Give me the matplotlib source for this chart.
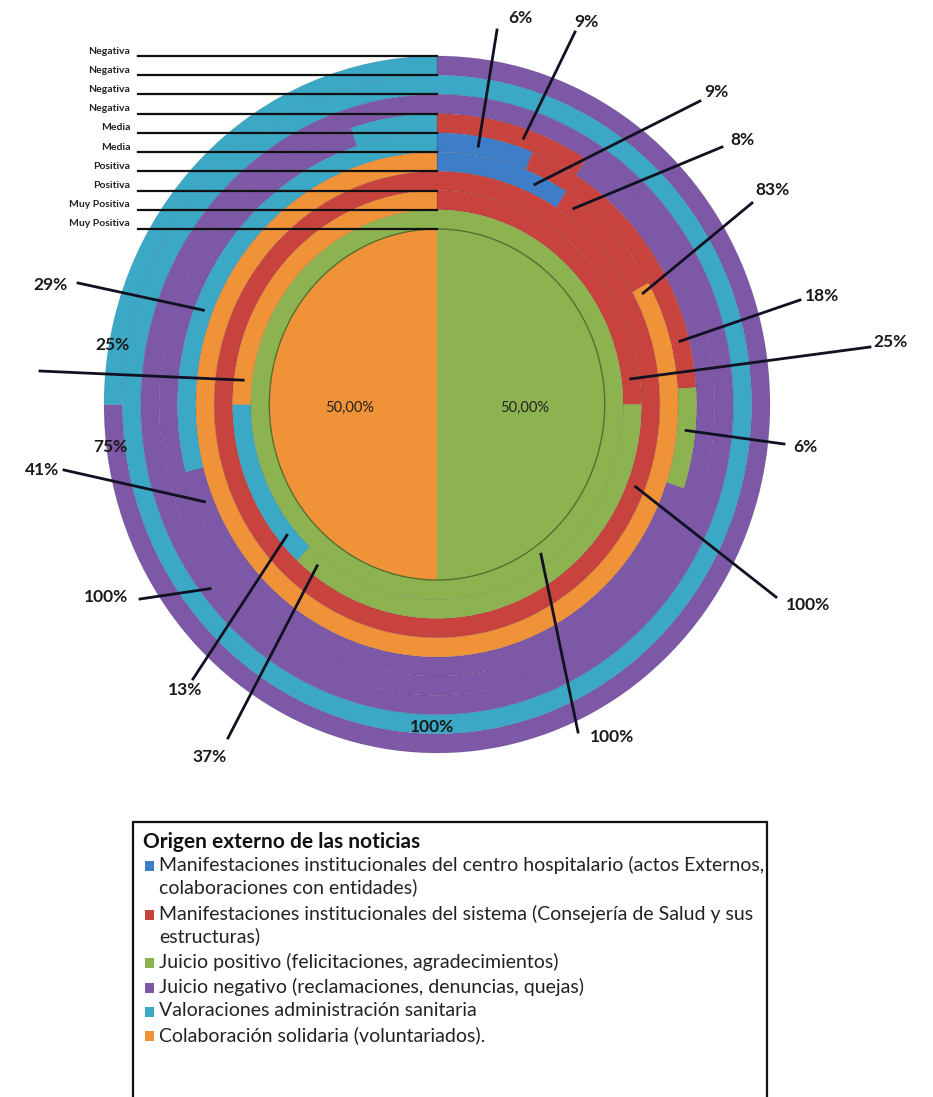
import numpy as np
import matplotlib.pyplot as plt
from matplotlib.patches import Circle, Rectangle

plt.rcParams['font.family'] = ['Lato', 'DejaVu Sans']

# categorias, en el orden de las porciones (sentido horario desde las 12)
categorias = [
    'Manifestaciones institucionales del centro hospitalario (actos Externos,\ncolaboraciones con entidades)',
    'Manifestaciones institucionales del sistema (Consejería de Salud y sus\nestructuras)',
    'Juicio positivo (felicitaciones, agradecimientos)',
    'Juicio negativo (reclamaciones, denuncias, quejas)',
    'Valoraciones administración sanitaria',
    'Colaboración solidaria (voluntariados).',
]
colores = ['#3E7DC8', '#C9433E', '#8DB351', '#7D58A6', '#3BA8C5', '#F09238']

valoracion = ['Negativa', 'Negativa', 'Negativa', 'Negativa', 'Media', 'Media',
              'Positiva', 'Positiva', 'Muy Positiva', 'Muy Positiva']

# % por anillo, de fuera hacia dentro (el ultimo es el circulo central)
anillo1 = [0, 0, 0, 75, 25, 0]
anillo2 = [0, 0, 0, 0, 100, 0]
anillo3 = [0, 0, 0, 100, 0, 0]
anillo4 = [0, 9, 0, 86, 5, 0]
anillo5 = [6, 18, 6, 41, 29, 0]
anillo6 = [9, 8, 0, 0, 0, 83]
anillo7 = [0, 100, 0, 0, 0, 0]
anillo8 = [0, 25, 37, 0, 13, 25]
anillo9 = [0, 0, 100, 0, 0, 0]
centro = [0, 0, 50, 0, 0, 50]
anillos = [anillo1, anillo2, anillo3, anillo4, anillo5, anillo6, anillo7, anillo8, anillo9]

W, H = 933, 1097
CX, CY, RX, RY = 437, 404.5, 333, 348.5
R_CENTRO = 0.5036
ancho = (1 - R_CENTRO) / len(anillos)


def px(x, y):
    # pixel de la figura -> coordenadas del grafico
    return (x - CX) / RX, (CY - y) / RY


fig = plt.figure(figsize=(W / 100, H / 100), dpi=100)
ax = fig.add_axes([(CX - RX) / W, (H - CY - RY) / H, 2 * RX / W, 2 * RY / H])

for i, vals in enumerate(anillos):
    nz = [(v, c) for v, c in zip(vals, colores) if v > 0]
    ax.pie([v for v, c in nz], colors=[c for v, c in nz], radius=1 - i * ancho,
           startangle=90, counterclock=False,
           wedgeprops=dict(width=ancho, edgecolor=(0, 0, 0, 0.10), linewidth=0.6))

nz = [(v, c) for v, c in zip(centro, colores) if v > 0]
ax.pie([v for v, c in nz], colors=[c for v, c in nz], radius=R_CENTRO,
       startangle=90, counterclock=False, wedgeprops=dict(linewidth=0))
ax.add_patch(Circle((0, 0), R_CENTRO, fill=False, ec='#55702e', lw=1.0))

ax.set_aspect('auto')
ax.set_xlim(-1, 1)
ax.set_ylim(-1, 1)
ax.axis('off')


def punto(anillo, cat, frac):
    vals = anillos[anillo]
    ang = (sum(vals[:cat]) + frac * vals[cat]) * 3.6
    r = 1 - anillo * ancho - ancho / 2
    t = np.radians(ang)
    return r * np.sin(t), r * np.cos(t)


# etiquetas con linea guia: anillo, categoria, posicion en la porcion, texto, inicio de linea
guias = [
    (4, 0, 0.44, (520, 18), (497, 30)),
    (3, 1, 0.58, (586, 22), (575, 32)),
    (5, 0, 0.77, (716, 92), (700, 101)),
    (5, 1, 0.13, (742, 140), (722, 147)),
    (5, 5, 0.005, (772, 190), (752, 203)),
    (4, 1, 0.84, (822, 296), (800, 300)),
    (7, 1, 0.92, (890, 342), (870, 347)),
    (4, 2, 0.43, (805, 447), (784, 444)),
    (6, 1, 0.31, (808, 605), (776, 597)),
    (8, 2, 0.40, (612, 737), (578, 732)),
    (7, 2, 0.96, (210, 757), (228, 738)),
    (7, 4, 0.15, (185, 690), (193, 679)),
    (2, 3, 0.645, (106, 597), (140, 599)),
    (4, 3, 0.95, (42, 470), (64, 470)),
    (4, 4, 0.34, (50, 285), (78, 283)),
]
for anillo, cat, frac, pos_txt, pos_ini in guias:
    x0, y0 = px(*pos_ini)
    x1, y1 = punto(anillo, cat, frac)
    ax.plot([x0, x1], [y0, y1], color='#111122', lw=2, clip_on=False, zorder=5)
    ax.text(*px(*pos_txt), '%d%%' % anillos[anillo][cat], ha='center', va='center',
            fontsize=12.5, fontweight='bold', color='#1a1a1a', clip_on=False, zorder=6)

# linea sin texto (anillo 8, colaboracion solidaria)
x0, y0 = px(40, 371)
x1, y1 = punto(7, 5, 0.076)
ax.plot([x0, x1], [y0, y1], color='#111122', lw=2, clip_on=False, zorder=5)

# etiquetas dentro de los anillos
for anillo, cat, pos in [(0, 3, (110, 447)), (0, 4, (112, 345)), (1, 4, (432, 727))]:
    ax.text(*px(*pos), '%d%%' % anillos[anillo][cat], ha='center', va='center',
            fontsize=12.5, fontweight='bold', color='#1a1a1a', clip_on=False, zorder=6)

ax.text(*px(525, 408), ('%.2f%%' % centro[2]).replace('.', ','), ha='center', va='center',
        fontsize=10.5, color='#222222', zorder=6)
ax.text(*px(350, 408), ('%.2f%%' % centro[5]).replace('.', ','), ha='center', va='center',
        fontsize=10.5, color='#222222', zorder=6)

# nombres de las series
radios = [1 - i * ancho for i in range(len(anillos))] + [R_CENTRO]
for nombre, r in zip(valoracion, radios):
    x0, _ = px(138, 0)
    ax.plot([x0, 0], [r, r], color='#111111', lw=1.6, clip_on=False, zorder=5)
    ax.text(px(130, 0)[0], r + 5 / RY, nombre, ha='right', va='center', fontsize=7.5,
            fontweight='bold', color='#222222', clip_on=False, zorder=6)


# leyenda
def fx(x):
    return x / W


def fy(y):
    return 1 - y / H


fig.add_artist(Rectangle((fx(133), fy(1110)), fx(767) - fx(133), fy(822) - fy(1110),
                         transform=fig.transFigure, fill=False, ec='#111111', lw=1.6))
fig.text(fx(143), fy(842), 'Origen externo de las noticias', fontsize=15, fontweight='bold',
         va='center', color='#111111')
filas = [866, 915, 963, 988, 1012, 1036]
for cat, c, yy in zip(categorias, colores, filas):
    fig.add_artist(Rectangle((fx(145), fy(yy + 5)), fx(9), 10 / H,
                             transform=fig.transFigure, fc=c, ec='none'))
    fig.text(fx(159), fy(yy - 10), cat, fontsize=14, va='top', color='#222222',
             linespacing=1.25)

fig.savefig('out.png', dpi=100)
